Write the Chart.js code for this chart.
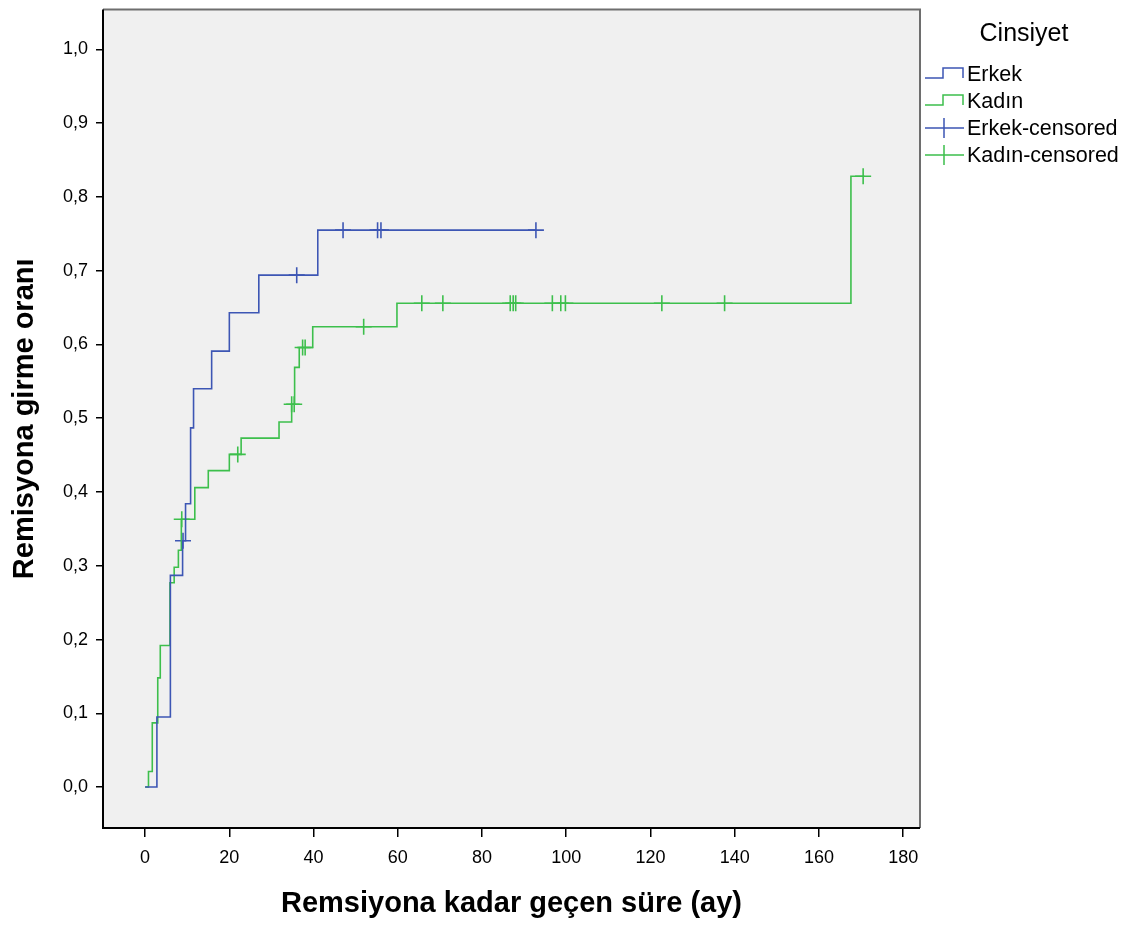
<!DOCTYPE html>
<html>
<head>
<meta charset="utf-8">
<script src="https://cdn.jsdelivr.net/npm/chart.js@4.4.1/dist/chart.umd.min.js"></script>
<style>
    html, body { margin: 0; padding: 0; background: #fff; }
    #wrap { width: 1141px; height: 927px; position: relative; }
</style>
</head>
<body>
<div id="wrap"><canvas id="kmChart"></canvas></div>
<script>
// Kaplan-Meier (1 - survival) steps
const erkekTime = [0, 2.8, 6, 8.9, 9.6, 10.8, 11.5, 15.8, 20, 27, 41, 92.8];
const erkekValue = [0, 0.095, 0.287, 0.334, 0.384, 0.487, 0.540, 0.591, 0.643, 0.694, 0.755, 0.755];

const kadinTime = [0, 0.8, 1.7, 3, 3.6, 5.9, 6.9, 7.9, 8.6, 11.8, 15, 20, 22.8, 31.8, 34.8, 35.5, 36.6, 39.8, 59.8, 167.6, 170.8];
const kadinValue = [0, 0.021, 0.087, 0.148, 0.192, 0.277, 0.298, 0.321, 0.363, 0.406, 0.429, 0.451, 0.473, 0.495, 0.519, 0.569, 0.596, 0.624, 0.656, 0.828, 0.828];

// censored observations
const erkekCensTime = [9, 36, 47, 55.2, 56, 92.8];
const erkekCensValue = [0.334, 0.694, 0.755, 0.755, 0.755, 0.755];

const kadinCensTime = [8.7, 22, 34.8, 35.4, 37.4, 38, 51.9, 65.7, 70.7, 86.7, 87.4, 88, 96.7, 98.7, 99.8, 122.7, 137.6, 170.5];
const kadinCensValue = [0.363, 0.451, 0.519, 0.519, 0.596, 0.596, 0.624, 0.656, 0.656, 0.656, 0.656, 0.656, 0.656, 0.656, 0.656, 0.656, 0.656, 0.828];

const xTicks = [0, 20, 40, 60, 80, 100, 120, 140, 160, 180];
const yTicks = [0, 0.1, 0.2, 0.3, 0.4, 0.5, 0.6, 0.7, 0.8, 0.9, 1.0];

const legendTitle = 'Cinsiyet';
const legendLabels = ['Erkek', 'Kadın', 'Erkek-censored', 'Kadın-censored'];

const blue = '#3d56b4';
const green = '#3dbf4c';
const fontName = "'Liberation Sans', Arial, sans-serif";

function toPoints(xs, ys) {
    return xs.map((x, i) => ({x: x, y: ys[i]}));
}

const plotFrame = {
    id: 'plotFrame',
    beforeDatasetsDraw(chart) {
        const {ctx, chartArea: a} = chart;
        ctx.save();
        ctx.fillStyle = '#f0f0f0';
        ctx.fillRect(a.left, a.top, a.right - a.left, a.bottom - a.top);
        ctx.restore();
    },
    afterDraw(chart) {
        const {ctx, chartArea: a} = chart;
        ctx.save();
        ctx.strokeStyle = '#6e6e6e';
        ctx.lineWidth = 2;
        ctx.beginPath();
        ctx.moveTo(a.left, a.top);
        ctx.lineTo(a.right, a.top);
        ctx.lineTo(a.right, a.bottom);
        ctx.stroke();
        ctx.strokeStyle = '#000';
        ctx.beginPath();
        ctx.moveTo(a.left, a.top);
        ctx.lineTo(a.left, a.bottom);
        ctx.lineTo(a.right, a.bottom);
        ctx.stroke();

        // legend on the right
        ctx.fillStyle = '#000';
        ctx.font = '25px ' + fontName;
        ctx.textAlign = 'center';
        ctx.textBaseline = 'middle';
        ctx.fillText(legendTitle, 1024, 34);

        ctx.font = '21.5px ' + fontName;
        ctx.textAlign = 'left';
        const rows = [74, 101, 128, 155];
        const cols = [blue, green, blue, green];
        rows.forEach((y, i) => {
            ctx.strokeStyle = cols[i];
            ctx.lineWidth = 1.5;
            ctx.beginPath();
            if (i < 2) {
                ctx.moveTo(925, y + 4);
                ctx.lineTo(943, y + 4);
                ctx.lineTo(943, y - 6);
                ctx.lineTo(963, y - 6);
                ctx.lineTo(963, y + 4);
            } else {
                ctx.moveTo(925, y);
                ctx.lineTo(964, y);
                ctx.moveTo(944, y - 10);
                ctx.lineTo(944, y + 10);
            }
            ctx.stroke();
            ctx.fillText(legendLabels[i], 967, y + 1);
        });
        ctx.restore();
    }
};

const ctx = document.getElementById('kmChart');

new Chart(ctx, {
    type: 'line',
    data: {
        datasets: [
            {
                label: 'Erkek',
                data: toPoints(erkekTime, erkekValue),
                borderColor: blue,
                borderWidth: 1.6,
                stepped: true,
                pointRadius: 0,
                fill: false
            },
            {
                label: 'Kadın',
                data: toPoints(kadinTime, kadinValue),
                borderColor: green,
                borderWidth: 1.6,
                stepped: true,
                pointRadius: 0,
                fill: false
            },
            {
                label: 'Erkek-censored',
                data: toPoints(erkekCensTime, erkekCensValue),
                showLine: false,
                pointStyle: 'cross',
                pointRadius: 8,
                pointBorderWidth: 1.6,
                pointBorderColor: blue,
                borderColor: blue
            },
            {
                label: 'Kadın-censored',
                data: toPoints(kadinCensTime, kadinCensValue),
                showLine: false,
                pointStyle: 'cross',
                pointRadius: 8,
                pointBorderWidth: 1.6,
                pointBorderColor: green,
                borderColor: green
            }
        ]
    },
    options: {
        responsive: true,
        maintainAspectRatio: false,
        animation: false,
        layout: {
            padding: {top: 8, right: 221, bottom: 0, left: 0}
        },
        plugins: {
            legend: {display: false},
            tooltip: {enabled: false}
        },
        scales: {
            x: {
                type: 'linear',
                min: -10,
                max: 184,
                afterBuildTicks: (scale) => {
                    scale.ticks = xTicks.map(v => ({value: v}));
                },
                afterFit: (scale) => {
                    scale.height = 99;
                    scale.paddingLeft = 0;
                    scale.paddingRight = 0;
                },
                border: {display: false},
                grid: {
                    drawOnChartArea: false,
                    drawTicks: true,
                    tickLength: 9,
                    color: '#000',
                    lineWidth: 1.5
                },
                ticks: {
                    color: '#000',
                    padding: 10,
                    maxRotation: 0,
                    font: {family: fontName, size: 18},
                    callback: (v) => String(v)
                },
                title: {
                    display: true,
                    text: 'Remsiyona kadar geçen süre (ay)',
                    color: '#000',
                    padding: {top: 0, bottom: 6},
                    font: {family: fontName, size: 29, weight: 'bold'}
                }
            },
            y: {
                type: 'linear',
                min: -0.0555,
                max: 1.054,
                afterBuildTicks: (scale) => {
                    scale.ticks = yTicks.map(v => ({value: v}));
                },
                afterFit: (scale) => {
                    scale.width = 103;
                    scale.paddingTop = 0;
                    scale.paddingBottom = 0;
                },
                border: {display: false},
                grid: {
                    drawOnChartArea: false,
                    drawTicks: true,
                    tickLength: 7,
                    color: '#000',
                    lineWidth: 1.5
                },
                ticks: {
                    color: '#000',
                    padding: 8,
                    font: {family: fontName, size: 18},
                    callback: (v) => v.toFixed(1).replace('.', ',')
                },
                title: {
                    display: true,
                    text: 'Remisyona girme oranı',
                    color: '#000',
                    padding: {top: 8, bottom: 0},
                    font: {family: fontName, size: 29, weight: 'bold'}
                }
            }
        }
    },
    plugins: [plotFrame]
});
</script>
</body>
</html>
